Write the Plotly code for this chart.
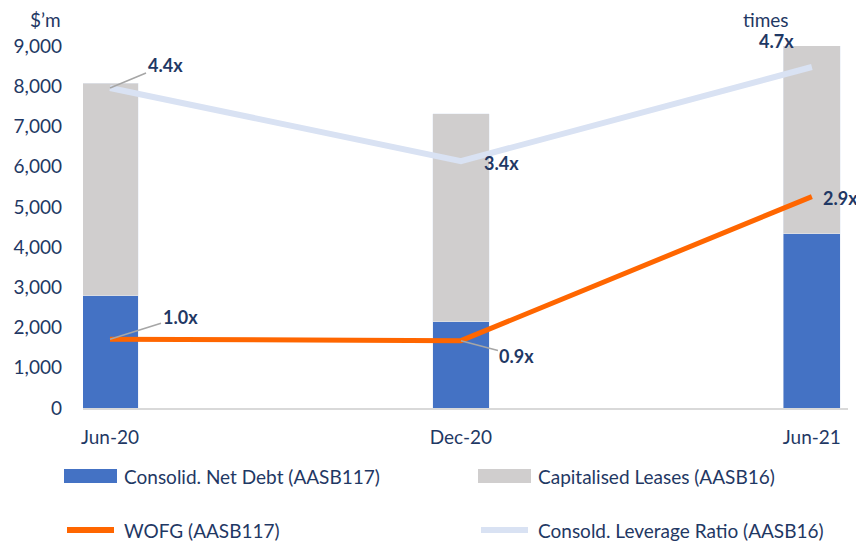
import plotly.graph_objects as go

periods = ["Jun-20", "Dec-20", "Jun-21"]
net_debt = [2790, 2140, 4330]
cap_leases = [5290, 5170, 4690]
wofg = [0.95, 0.93, 2.92]
leverage = [4.42, 3.41, 4.71]
wofg_labels = ["1.0x", "0.9x", "2.9x"]
leverage_labels = ["4.4x", "3.4x", "4.7x"]
y_ticks = [0, 1000, 2000, 3000, 4000, 5000, 6000, 7000, 8000, 9000]
legend_names = ["Consolid. Net Debt (AASB117)", "Capitalised Leases (AASB16)",
                "WOFG (AASB117)", "Consold. Leverage Ratio (AASB16)"]

NAVY = "#1F3864"
BLUE = "#4472C4"
GREY = "#D0CECE"
ORANGE = "#FF6600"
LIGHT = "#D9E2F3"
FONT = "Lato"

fig = go.Figure()
fig.add_trace(go.Bar(x=periods, y=net_debt, name=legend_names[0], marker_color=BLUE,
                     width=0.162, showlegend=False))
fig.add_trace(go.Bar(x=periods, y=cap_leases, name=legend_names[1], marker_color=GREY,
                     width=0.162, showlegend=False))
fig.add_trace(go.Scatter(x=periods, y=leverage, name=legend_names[3], yaxis="y2",
                         mode="lines", line=dict(color=LIGHT, width=6), showlegend=False))
fig.add_trace(go.Scatter(x=periods, y=wofg, name=legend_names[2], yaxis="y2",
                         mode="lines", line=dict(color=ORANGE, width=5), showlegend=False))

annotations = []
lev_off = [(55, -23, True), (41, -2, False), (-35, 26, False)]
for i, (dx, dy, arrow) in enumerate(lev_off):
    if arrow:
        annotations.append(dict(x=periods[i], y=leverage[i], xref="x", yref="y2",
                                text="<b>%s</b>" % leverage_labels[i], showarrow=True,
                                ax=dx, ay=dy, arrowhead=0, arrowwidth=1.5, arrowcolor="#A6A6A6",
                                font=dict(family=FONT, size=18, color=NAVY)))
    else:
        annotations.append(dict(x=periods[i], y=leverage[i], xref="x", yref="y2",
                                text="<b>%s</b>" % leverage_labels[i], showarrow=False,
                                xshift=dx, yshift=dy,
                                font=dict(family=FONT, size=18, color=NAVY)))
wofg_off = [(70, -22, True), (56, 15, True), (29, -1, False)]
for i, (dx, dy, arrow) in enumerate(wofg_off):
    if arrow:
        annotations.append(dict(x=periods[i], y=wofg[i], xref="x", yref="y2",
                                text="<b>%s</b>" % wofg_labels[i], showarrow=True,
                                ax=dx, ay=dy, arrowhead=0, arrowwidth=1.5, arrowcolor="#A6A6A6",
                                font=dict(family=FONT, size=18, color=NAVY)))
    else:
        annotations.append(dict(x=periods[i], y=wofg[i], xref="x", yref="y2",
                                text="<b>%s</b>" % wofg_labels[i], showarrow=False,
                                xshift=dx, yshift=dy,
                                font=dict(family=FONT, size=18, color=NAVY)))

annotations.append(dict(x=-0.026, y=1.072, xref="paper", yref="paper", xanchor="right",
                        yanchor="middle", text="$\u2019m", showarrow=False,
                        font=dict(family=FONT, size=19, color=NAVY)))
annotations.append(dict(x=0.893, y=1.072, xref="paper", yref="paper", xanchor="center",
                        yanchor="middle", text="times", showarrow=False,
                        font=dict(family=FONT, size=19, color=NAVY)))

# custom legend (page pixel positions converted to plot-area paper coords)
W, H, L, T = 765.0, 362.0, 83.0, 46.0
def px(x):
    return (x - L) / W
def py(y):
    return (T + H - y) / H

shapes = []
leg = [
    (64, 117, 476, "bar", BLUE, legend_names[0]),
    (478, 531, 476, "bar", GREY, legend_names[1]),
    (64, 117, 530, "line", ORANGE, legend_names[2]),
    (478, 531, 530, "line", LIGHT, legend_names[3]),
]
for x0, x1, yc, kind, col, name in leg:
    if kind == "bar":
        shapes.append(dict(type="rect", xref="paper", yref="paper", x0=px(x0), x1=px(x1),
                           y0=py(yc + 7), y1=py(yc - 7), fillcolor=col, line=dict(width=0)))
    else:
        shapes.append(dict(type="line", xref="paper", yref="paper", x0=px(x0 + 3), x1=px(x1 - 3),
                           y0=py(yc), y1=py(yc), line=dict(color=col, width=6)))
    annotations.append(dict(x=px(x1 + 5), y=py(yc), xref="paper", yref="paper",
                            xanchor="left", yanchor="middle", text=name, showarrow=False,
                            font=dict(family=FONT, size=19, color=NAVY)))

fig.update_layout(
    barmode="stack",
    width=856, height=534,
    margin=dict(l=75, r=16, t=38, b=134),
    plot_bgcolor="white", paper_bgcolor="white",
    font=dict(family=FONT, size=19, color=NAVY),
    showlegend=False,
    xaxis=dict(type="category", range=[-0.077, 2.103], showgrid=False, automargin=False,
               showline=True, linecolor="#D9D9D9", linewidth=2, ticks="",
               ticklabelstandoff=11, tickfont=dict(family=FONT, size=19, color=NAVY)),
    yaxis=dict(range=[0, 9000], tickvals=y_ticks, tickformat=",", showgrid=False,
               automargin=False, zeroline=False, showline=False, ticklabelstandoff=20,
               tickfont=dict(family=FONT, size=19, color=NAVY)),
    yaxis2=dict(range=[0, 5], overlaying="y", side="right", visible=False),
    annotations=annotations,
    shapes=shapes,
)

fig.write_html("out.html")
